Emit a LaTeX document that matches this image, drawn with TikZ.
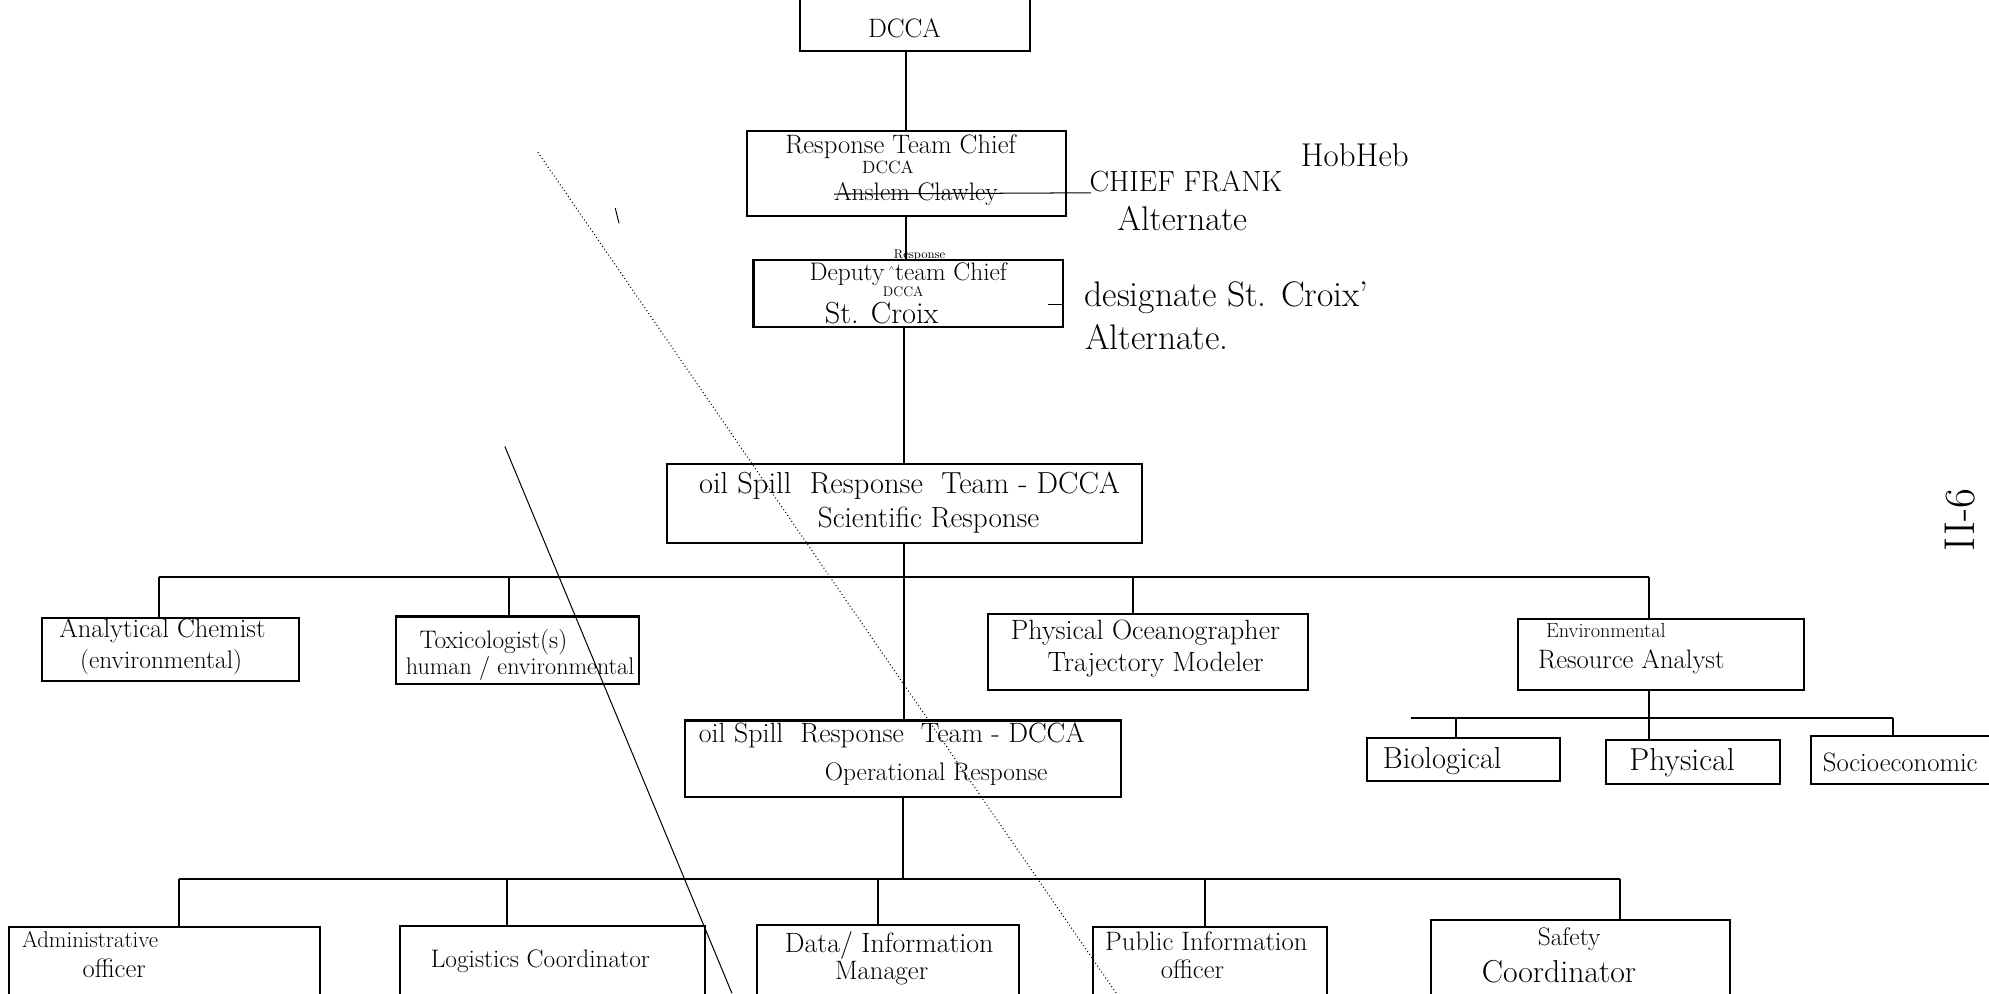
\documentclass[tikz,border=0pt]{standalone}
\usepackage{amsmath, amssymb}
\begin{document}
\begin{tikzpicture}[x=1pt,y=1pt,yscale=-1,xscale=1,
  box/.style={draw, line width=1.6pt, inner sep=0pt},
  hw/.style={font=\fontsize{#1}{#1}\selectfont, inner sep=0pt},
  wire/.style={line width=1.6pt},
  scrib/.style={line width=0.8pt}]
\useasboundingbox (0,0) rectangle (1568,783);
\clip (0,0) rectangle (1568,783);

%Shape: Rectangle [top chain]
\node[box, minimum width=181pt, minimum height=60pt] (dcca) at (721.5,10) {};
\node[box, minimum width=251pt, minimum height=67pt] (rtc) at (714.5,136.5) {};
\node[box, minimum width=244pt, minimum height=53pt] (dep) at (716,231.5) {};
\node[box, minimum width=374pt, minimum height=62pt] (sci) at (713,397) {};
%Shape: Rectangle [scientific row]
\node[box, minimum width=203pt, minimum height=50pt] (ana) at (134.5,512) {};
\node[box, minimum width=192pt, minimum height=53pt] (tox) at (408,512.5) {};
\node[box, minimum width=252pt, minimum height=60pt] (pho) at (905,514) {};
\node[box, minimum width=225pt, minimum height=56pt] (era) at (1309.5,516) {};
\node[box, minimum width=152pt, minimum height=34pt] (bio) at (1154,599) {};
\node[box, minimum width=137pt, minimum height=35pt] (phy) at (1334.5,600.5) {};
\node[box, minimum width=152pt, minimum height=38pt] (soc) at (1504,599) {};
%Shape: Rectangle [operational row]
\node[box, minimum width=344pt, minimum height=60pt] (ops) at (712,598) {};
\node[box, minimum width=245pt, minimum height=69pt] (adm) at (129.5,765.5) {};
\node[box, minimum width=241pt, minimum height=70pt] (log) at (435.5,765) {};
\node[box, minimum width=206pt, minimum height=71pt] (dat) at (700,764.5) {};
\node[box, minimum width=184pt, minimum height=69pt] (pub) at (954,765.5) {};
\node[box, minimum width=236pt, minimum height=75pt] (saf) at (1246,762.5) {};

%Straight Lines [chain]
\draw[wire] (rtc.north |- dcca.south) -- (rtc.north);
\draw[wire] (rtc.south) -- (rtc.south |- dep.north);
\draw[wire] (sci.north |- dep.south) -- (sci.north);
\draw[wire] (sci.south) -- (sci.south |- ops.north);

%Straight Lines [scientific bus]
\coordinate (sbusL) at (125,455);
\coordinate (sbus2) at (401,455);
\coordinate (sbus3) at (893,455);
\coordinate (sbusR) at (1300,455);
\draw[wire] (sbusL) -- (sbusR);
\draw[wire] (sbusL) -- (sbusL |- ana.north);
\draw[wire] (sbus2) -- (sbus2 |- tox.north);
\draw[wire] (sbus3) -- (sbus3 |- pho.north);
\draw[wire] (sbusR) -- (sbusR |- era.north);

%Straight Lines [resource bus]
\coordinate (ebusL) at (1112,566);
\coordinate (ebus1) at (1148,566);
\coordinate (ebus2) at (1300,566);
\coordinate (ebusR) at (1492,566);
\draw[wire] (ebus2 |- era.south) -- (ebus2);
\draw[wire] (ebusL) -- (ebusR);
\draw[wire] (ebus1) -- (ebus1 |- bio.north);
\draw[wire] (ebus2) -- (ebus2 |- phy.north);
\draw[wire] (ebusR) -- (ebusR |- soc.north);

%Straight Lines [operational bus]
\coordinate (obusL) at (141,693);
\coordinate (obus2) at (400,693);
\coordinate (obus3) at (692,693);
\coordinate (obus4) at (950,693);
\coordinate (obusR) at (1277,693);
\draw[wire] (ops.south) -- (ops.south |- obusL);
\draw[wire] (obusL) -- (obusR);
\draw[wire] (obusL) -- (obusL |- adm.north);
\draw[wire] (obus2) -- (obus2 |- log.north);
\draw[wire] (obus3) -- (obus3 |- dat.north);
\draw[wire] (obus4) -- (obus4 |- pub.north);
\draw[wire] (obusR) -- (obusR |- saf.north);

% Text Node
\node[hw=21] (dccaT) at (713,22) {DCCA};
\node[hw=21] (rtcA) at (710,116) {Response Team Chief};
\node[hw=14] (rtcB) at (700,132) {DCCA};
\node[hw=20] (rtcC) at (722,153) {Anslem Clawley};
\coordinate (hook) at (860,152);
\draw[scrib] (rtcC.west) -- (hook);
\node[hw=23] (noteA) at (935,143) {CHIEF FRANK};
\node[hw=26] (noteB) at (1068,122) {HobHeb};
\node[hw=27] (noteC) at (932,172) {Alternate};
% Text Node
\node[hw=10] (depS) at (725,201) {Response};
\node[hw=20] (depA) at (716,216) {Deputy\,\textsuperscript{\tiny$\wedge$}team Chief};
\node[hw=11] (depB) at (712,230) {DCCA};
\node[hw=24] (depC) at (695,247) {St. Croix};
\coordinate (tick) at (826,240);
\draw[scrib] (tick) -- (dep.east |- tick);
\node[hw=28] (noteD) at (967,235) {designate St. Croix'};
\node[hw=28] (noteE) at (912,266) {Alternate.};
% Text Node
\node[hw=24] (sciA) at (717,383) {oil Spill\ \ Response\ \ Team - DCCA};
\node[hw=23] (sciB) at (732,410) {Scientific Response};
\node[hw=21] (anaA) at (128,497) {Analytical Chemist};
\node[hw=20] (anaB) at (127,522) {(environmental)};
\node[hw=20] (toxA) at (389,506) {Toxicologist(s)};
\node[hw=19] (toxB) at (410,527) {human / environmental};
\node[hw=22] (phoA) at (903,499) {Physical Oceanographer};
\node[hw=22] (phoB) at (911,524) {Trajectory Modeler};
\node[hw=16] (eraA) at (1266,497) {Environmental};
\node[hw=21] (eraB) at (1286,522) {Resource Analyst};
\node[hw=24] (bioT) at (1137,600) {Biological};
\node[hw=25] (phyT) at (1326,601) {Physical};
\node[hw=21] (socT) at (1498,601) {Socioeconomic};
% Text Node
\node[hw=22] (opsA) at (703,580) {oil Spill\ \ Response\ \ Team - DCCA};
\node[hw=20] (opsB) at (738,610) {Operational Response};
\node[hw=18] (admA) at (71,741) {Administrative};
\node[hw=21] (admB) at (90,763) {officer};
\node[hw=20] (logT) at (426,758) {Logistics Coordinator};
\node[hw=22] (datA) at (701,745) {Data/ Information};
\node[hw=21] (datB) at (695,767) {Manager};
\node[hw=21] (pubA) at (951,742) {Public Information};
\node[hw=21] (pubB) at (940,764) {officer};
\node[hw=20] (safA) at (1237,740) {Safety};
\node[hw=25] (safB) at (1229,766) {Coordinator};
\node[hw=34, rotate=90] (pgT) at (1545,410) {II-6};

%Straight Lines [stray marks]
\draw[scrib] (398,352) -- (577,783);
\draw[scrib, dotted] (424,120) -- (880,783);
\draw[scrib] (485,164) -- (488,176);

\end{tikzpicture}
\end{document}
